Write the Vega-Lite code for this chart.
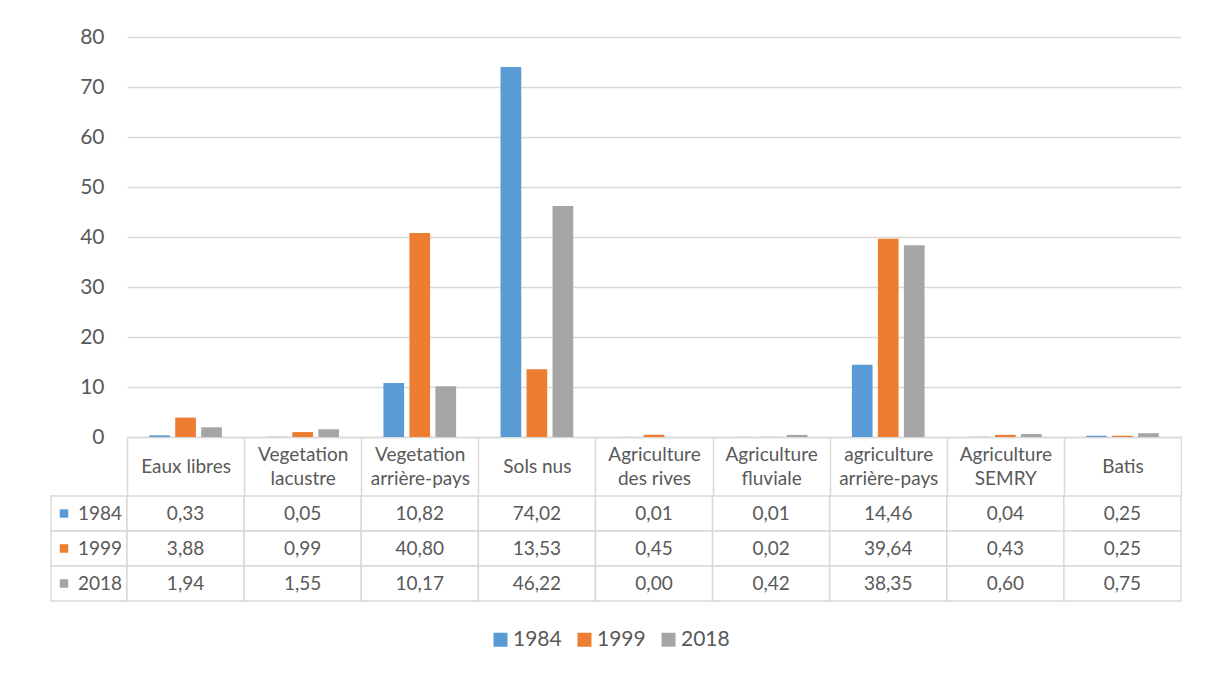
{
  "$schema": "https://vega.github.io/schema/vega-lite/v6.json",
  "padding": {"left": 50, "top": 26, "right": 0, "bottom": 0},
  "data": {"values": [
    {"category": "Eaux libres", "series": "1984", "value": 0.33},
    {"category": "Vegetation lacustre", "series": "1984", "value": 0.05},
    {"category": "Vegetation arrière-pays", "series": "1984", "value": 10.82},
    {"category": "Sols nus", "series": "1984", "value": 74.02},
    {"category": "Agriculture des rives", "series": "1984", "value": 0.01},
    {"category": "Agriculture fluviale", "series": "1984", "value": 0.01},
    {"category": "agriculture arrière-pays", "series": "1984", "value": 14.46},
    {"category": "Agriculture SEMRY", "series": "1984", "value": 0.04},
    {"category": "Batis", "series": "1984", "value": 0.25},
    {"category": "Eaux libres", "series": "1999", "value": 3.88},
    {"category": "Vegetation lacustre", "series": "1999", "value": 0.99},
    {"category": "Vegetation arrière-pays", "series": "1999", "value": 40.80},
    {"category": "Sols nus", "series": "1999", "value": 13.53},
    {"category": "Agriculture des rives", "series": "1999", "value": 0.45},
    {"category": "Agriculture fluviale", "series": "1999", "value": 0.02},
    {"category": "agriculture arrière-pays", "series": "1999", "value": 39.64},
    {"category": "Agriculture SEMRY", "series": "1999", "value": 0.43},
    {"category": "Batis", "series": "1999", "value": 0.25},
    {"category": "Eaux libres", "series": "2018", "value": 1.94},
    {"category": "Vegetation lacustre", "series": "2018", "value": 1.55},
    {"category": "Vegetation arrière-pays", "series": "2018", "value": 10.17},
    {"category": "Sols nus", "series": "2018", "value": 46.22},
    {"category": "Agriculture des rives", "series": "2018", "value": 0.00},
    {"category": "Agriculture fluviale", "series": "2018", "value": 0.42},
    {"category": "agriculture arrière-pays", "series": "2018", "value": 38.35},
    {"category": "Agriculture SEMRY", "series": "2018", "value": 0.60},
    {"category": "Batis", "series": "2018", "value": 0.75}
  ]},
  "columns": 2,
  "spacing": {"row": 59, "column": 0},
  "bounds": "flush",
  "concat": [
    {
      "width": 76,
      "height": 400,
      "transform": [{"filter": "datum.category == 'Batis'"}],
      "mark": {"type": "rect", "fill": "white", "opacity": 0}
    },
    {
      "width": 1054,
      "height": 400,
      "mark": {"type": "bar"},
      "encoding": {
        "x": {
          "field": "category",
          "type": "nominal",
          "sort": null,
          "scale": {"paddingInner": 0, "paddingOuter": 0},
          "axis": {
            "title": null,
            "labelAngle": 0,
            "labelExpr": "isString(datum.value) ? (length(datum.value) > 12 ? [slice(datum.value, 0, indexof(datum.value, ' ')), slice(datum.value, indexof(datum.value, ' ') + 1)] : datum.value) : ''",
            "labelBaseline": "middle",
            "labelPadding": {"condition": {"test": "isString(datum.value) && length(datum.value) > 12", "value": -41.5}, "value": -29.5},
            "labelFontSize": 19,
            "labelLineHeight": 24,
            "labelColor": "#595959",
            "labelOverlap": false,
            "labelFlush": false,
            "labelLimit": 300,
            "domain": true,
            "domainColor": "#d9d9d9",
            "domainWidth": 1.5,
            "ticks": true,
            "tickBand": "extent",
            "tickSize": 59,
            "tickColor": "#d9d9d9",
            "tickWidth": 1.5,
            "grid": false
          }
        },
        "xOffset": {
          "field": "series",
          "type": "nominal",
          "scale": {"paddingInner": 0.204, "paddingOuter": 0.854}
        },
        "y": {
          "field": "value",
          "type": "quantitative",
          "scale": {"domain": [0, 80]},
          "axis": {
            "title": null,
            "values": [0, 10, 20, 30, 40, 50, 60, 70, 80],
            "domain": false,
            "ticks": false,
            "labelPadding": 23,
            "labelFontSize": 21,
            "labelColor": "#595959",
            "gridColor": "#d9d9d9",
            "gridWidth": 1.5
          }
        },
        "color": {
          "field": "series",
          "type": "nominal",
          "scale": {"domain": ["1984", "1999", "2018"], "range": ["#5b9bd5", "#ed7d31", "#a5a5a5"]},
          "legend": {
            "title": null,
            "orient": "none",
            "legendX": 439,
            "legendY": 592,
            "direction": "horizontal",
            "symbolType": "square",
            "symbolSize": 196,
            "symbolStrokeWidth": 0,
            "labelFontSize": 21,
            "labelColor": "#595959",
            "labelOffset": 2,
            "columnPadding": 12,
            "padding": 0
          }
        }
      }
    },
    {
      "width": 76,
      "height": 105,
      "transform": [{"filter": "datum.category == 'Batis'"}],
      "encoding": {
        "y": {"field": "series", "type": "nominal", "sort": ["1984", "1999", "2018"], "scale": {"paddingInner": 0, "paddingOuter": 0}, "axis": null}
      },
      "layer": [
        {"mark": {"type": "rect", "fill": "white", "stroke": "#d9d9d9", "strokeWidth": 1.5}},
        {
          "mark": {"type": "point", "shape": "square", "filled": true, "size": 72, "opacity": 1, "xOffset": -25},
          "encoding": {"color": {"field": "series", "type": "nominal", "legend": null}}
        },
        {
          "mark": {"type": "text", "align": "left", "baseline": "middle", "dx": -11, "fontSize": 19, "color": "#595959"},
          "encoding": {"text": {"field": "series", "type": "nominal"}}
        }
      ]
    },
    {
      "width": 1054,
      "height": 105,
      "transform": [{"calculate": "replace(format(datum.value, '.2f'), '.', ',')", "as": "label"}],
      "encoding": {
        "x": {"field": "category", "type": "nominal", "sort": null, "scale": {"paddingInner": 0, "paddingOuter": 0}, "axis": null},
        "y": {"field": "series", "type": "nominal", "sort": ["1984", "1999", "2018"], "scale": {"paddingInner": 0, "paddingOuter": 0}, "axis": null}
      },
      "layer": [
        {"mark": {"type": "rect", "fill": "white", "stroke": "#d9d9d9", "strokeWidth": 1.5}},
        {
          "mark": {"type": "text", "align": "center", "baseline": "middle", "fontSize": 19, "color": "#595959"},
          "encoding": {"text": {"field": "label", "type": "nominal"}}
        }
      ]
    }
  ],
  "config": {
    "font": "Lato",
    "view": {"stroke": null}
  }
}
